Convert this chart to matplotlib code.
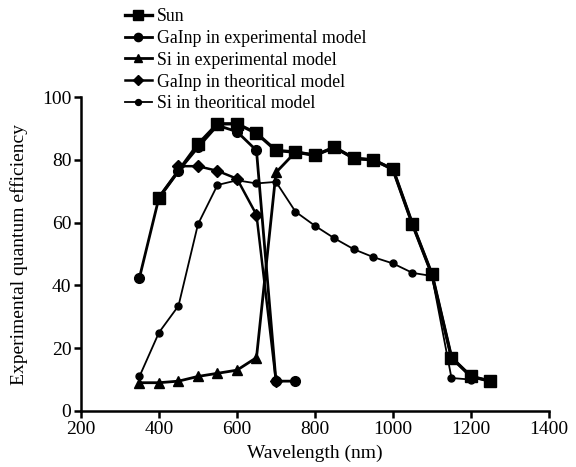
import matplotlib
matplotlib.use("Agg")
import matplotlib.pyplot as plt

plt.rcParams['font.family'] = ['Liberation Serif', 'DejaVu Serif']

# wavelengths (nm) and quantum efficiency values
sun_x = [400, 500, 550, 600, 650, 700, 750, 800, 850, 900, 950, 1000, 1050, 1100, 1150, 1200, 1250]
sun_y = [68, 85, 91.5, 91.5, 88.5, 83, 82.5, 81.5, 84, 80.5, 80, 77, 59.5, 43.5, 17, 11, 9.5]

gainp_exp_x = [350, 400, 450, 500, 550, 600, 650, 700, 750]
gainp_exp_y = [42.5, 68, 76.5, 84, 91, 89, 83, 9.5, 9.5]

si_exp_x = [350, 400, 450, 500, 550, 600, 650, 700, 750, 800, 850, 900, 950, 1000, 1050, 1100, 1150, 1200, 1250]
si_exp_y = [9, 9, 9.5, 11, 12, 13, 17, 76, 82.5, 81.5, 84, 80.5, 80, 77, 59.5, 43.5, 17, 11, 9.5]

gainp_th_x = [450, 500, 550, 600, 650, 700]
gainp_th_y = [78, 78, 76.5, 74, 62.5, 9.5]

si_th_x = [350, 400, 450, 500, 550, 600, 650, 700, 750, 800, 850, 900, 950, 1000, 1050, 1100, 1150, 1200]
si_th_y = [11, 25, 33.5, 59.5, 72, 73.5, 72.5, 73, 63.5, 59, 55, 51.5, 49, 47, 44, 43, 10.5, 10]

fig = plt.figure(figsize=(5.76, 4.67), dpi=100)
ax = fig.add_axes([0.1406, 0.12, 0.8125, 0.672])

ax.plot(sun_x, sun_y, color='black', lw=2.4, marker='s', ms=8, label='Sun', zorder=5)
ax.plot(gainp_exp_x, gainp_exp_y, color='black', lw=2.0, marker='o', ms=7,
        label='GaInp in experimental model', zorder=4)
ax.plot(si_exp_x, si_exp_y, color='black', lw=2.0, marker='^', ms=7.5,
        label='Si in experimental model', zorder=3)
ax.plot(gainp_th_x, gainp_th_y, color='black', lw=1.8, marker='D', ms=6,
        label='GaInp in theoritical model', zorder=4)
ax.plot(si_th_x, si_th_y, color='black', lw=1.3, marker='o', ms=5,
        label='Si in theoritical model', zorder=4)

ax.set_xlim(200, 1400)
ax.set_ylim(0, 100)
ax.set_xticks(range(200, 1401, 200))
ax.set_yticks(range(0, 101, 20))
ax.spines['top'].set_visible(False)
ax.spines['right'].set_visible(False)
for s in ('left', 'bottom'):
    ax.spines[s].set_linewidth(1.8)
ax.tick_params(direction='out', length=5, width=1.8, labelsize=14, pad=2)
ax.set_xlabel('Wavelength (nm)', fontsize=14, labelpad=5)
ax.set_ylabel('Experimental quantum efficiency', fontsize=14, labelpad=10)

ax.legend(loc='upper left', bbox_to_anchor=(118 / 576, 1 - 1 / 467),
          bbox_transform=fig.transFigure, frameon=False, fontsize=12.8,
          handlelength=1.5, handletextpad=0.3, labelspacing=0.27,
          borderaxespad=0, markerscale=0.85)

fig.savefig('out.png', dpi=100)
